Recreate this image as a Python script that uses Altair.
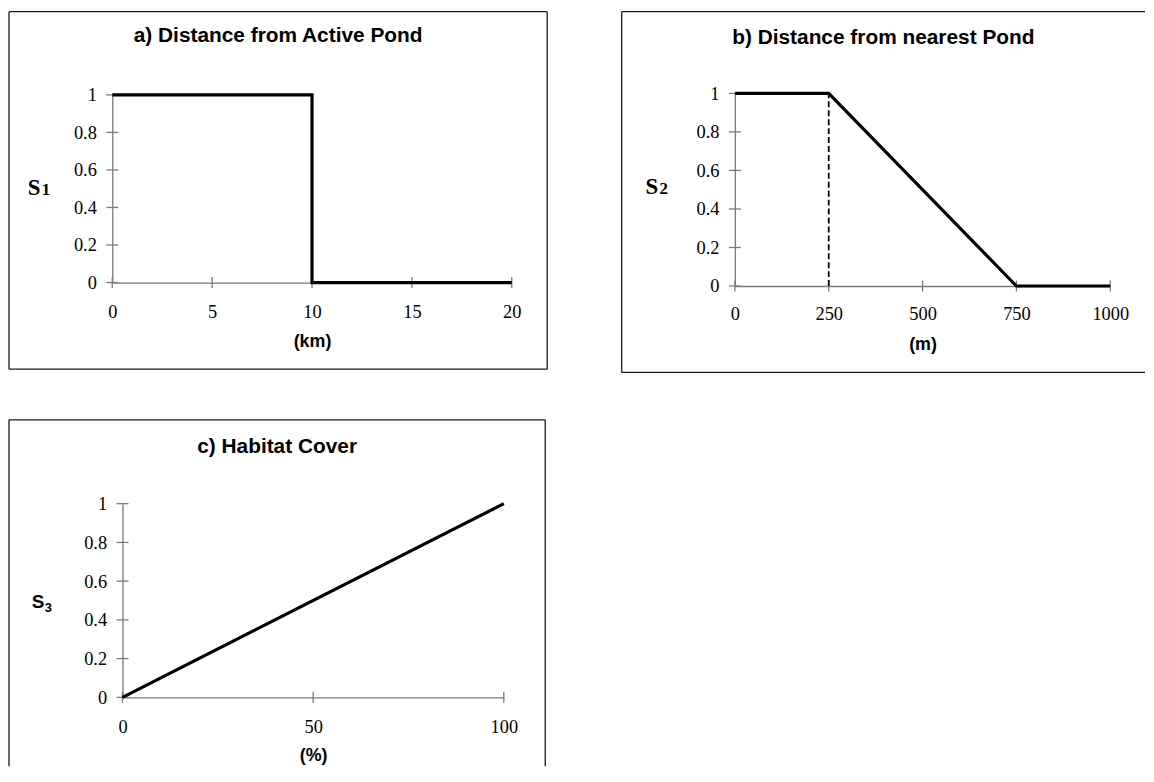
import altair as alt
import pandas as pd

# ---------------- data ----------------
y_ticks = [0, 0.2, 0.4, 0.6, 0.8, 1]

a_x = [0, 10, 10, 20]
a_y = [1, 1, 0, 0]
a_xticks = [0, 5, 10, 15, 20]

b_x = [0, 250, 750, 1000]
b_y = [1, 1, 0, 0]
b_dash_x = [250, 250]
b_dash_y = [0, 1]
b_xticks = [0, 250, 500, 750, 1000]

c_x = [0, 100]
c_y = [0, 1]
c_xticks = [0, 50, 100]

titles = ["a) Distance from Active Pond", "b) Distance from nearest Pond", "c) Habitat Cover"]
x_titles = ["(km)", "(m)", "(%)"]
y_subs = ["1", "2", "3"]

AX = "#7a7a7a"
BORDER = "#1a1a1a"
SERIF = "Liberation Serif"
SANS = "Liberation Sans"
one = pd.DataFrame({"k": [0]})


def border(W, H, sides):
    layers = []
    for s in sides:
        if s == "left":
            enc = dict(x=alt.value(0), y=alt.value(0), y2=alt.value(H))
        elif s == "right":
            enc = dict(x=alt.value(W), y=alt.value(0), y2=alt.value(H))
        elif s == "top":
            enc = dict(y=alt.value(0), x=alt.value(0), x2=alt.value(W))
        else:
            enc = dict(y=alt.value(H), x=alt.value(0), x2=alt.value(W))
        layers.append(alt.Chart(one).mark_rule(color=BORDER, strokeWidth=1.3).encode(**enc))
    return layers


def panel(lx, ly, xticks, xdom, title, xtitle, sub, W, H, xr, yr, title_y,
          lab_pad, xt_y, s_font, s_size, s_x, s_base, sub_size, sub_x, sub_base,
          sides, dash=None):
    xs = alt.Scale(domain=xdom, range=xr, nice=False, zero=False)
    ys = alt.Scale(domain=[0, 1], range=yr, nice=False, zero=False)
    xaxis = alt.Axis(values=xticks, labelExpr="'' + datum.value", grid=False, ticks=False,
                     tickSize=0, domainColor=AX, domainWidth=1.3, labelFont=SERIF,
                     labelFontSize=18.5, labelColor="black", labelPadding=lab_pad,
                     labelBaseline="middle", labelFlush=False, labelOverlap=False,
                     offset=yr[0] - H, title=xtitle, titleFont=SANS, titleFontWeight="bold",
                     titleFontSize=18, titleColor="black", titleY=xt_y, titleBaseline="middle")
    yaxis = alt.Axis(values=y_ticks, labelExpr="'' + datum.value", grid=False, ticks=False,
                     tickSize=0, domainColor=AX, domainWidth=1.3, labelFont=SERIF,
                     labelFontSize=18.5, labelColor="black", labelPadding=16,
                     labelOverlap=False, offset=-xr[0], title=None)
    X = lambda f: alt.X(f, scale=xs, axis=xaxis)
    Y = lambda f: alt.Y(f, scale=ys, axis=yaxis)

    df = pd.DataFrame({"x": lx, "y": ly, "i": list(range(len(lx)))})
    line = alt.Chart(df).mark_line(color="black", strokeWidth=3.2, strokeJoin="miter").encode(
        x=X("x:Q"), y=Y("y:Q"), order="i:Q")

    ytk = alt.Chart(pd.DataFrame({"y": y_ticks})).mark_rule(color=AX, strokeWidth=1.3).encode(
        y=Y("y:Q"), x=alt.value(xr[0] - 6), x2=alt.value(xr[0] + 6))
    xtk = alt.Chart(pd.DataFrame({"x": xticks})).mark_rule(color=AX, strokeWidth=1.3).encode(
        x=X("x:Q"), y=alt.value(yr[0] - 5.5), y2=alt.value(yr[0] + 5.5))

    layers = border(W, H, sides) + [xtk, ytk]
    if dash is not None:
        ddf = pd.DataFrame({"x": dash[0], "y": dash[1]})
        layers.append(alt.Chart(ddf).mark_line(color="black", strokeWidth=1.8,
                                               strokeDash=[6, 3]).encode(x=X("x:Q"), y=Y("y:Q")))
    layers.append(line)

    ttl = alt.Chart(pd.DataFrame({"t": [title]})).mark_text(
        font=SANS, fontWeight="bold", fontSize=21, align="center", baseline="middle",
        color="black").encode(text="t:N", x=alt.value(W / 2), y=alt.value(title_y))
    s_lab = alt.Chart(pd.DataFrame({"t": ["S"]})).mark_text(
        font=s_font, fontWeight="bold", fontSize=s_size, align="left", baseline="alphabetic",
        color="black").encode(text="t:N", x=alt.value(s_x), y=alt.value(s_base))
    sub_lab = alt.Chart(pd.DataFrame({"t": [sub]})).mark_text(
        font=s_font, fontWeight="bold", fontSize=sub_size, align="left", baseline="alphabetic",
        color="black").encode(text="t:N", x=alt.value(sub_x), y=alt.value(sub_base))
    layers += [ttl, s_lab, sub_lab]
    return alt.layer(*layers).properties(width=W, height=H)


pa = panel(a_x, a_y, a_xticks, [0, 20], titles[0], x_titles[0], y_subs[0],
           W=542, H=360, xr=[104, 506.3], yr=[272.8, 83.8], title_y=24.3,
           lab_pad=29.5, xt_y=59.5, s_font=SERIF, s_size=23, s_x=18.8, s_base=184.3,
           sub_size=17, sub_x=33, sub_base=184.3,
           sides=["left", "top", "right", "bottom"])

pb = panel(b_x, b_y, b_xticks, [0, 1000], titles[1], x_titles[1], y_subs[1],
           W=527, H=363.3, xr=[114, 492], yr=[276.3, 82.3], title_y=26.3,
           lab_pad=28, xt_y=58.5, s_font=SERIF, s_size=23, s_x=24, s_base=183.3,
           sub_size=17, sub_x=38, sub_base=183.3,
           sides=["left", "top", "bottom"], dash=(b_dash_x, b_dash_y))

pc = panel(c_x, c_y, c_xticks, [0, 100], titles[2], x_titles[2], y_subs[2],
           W=540, H=349, xr=[114.3, 498.3], yr=[279.5, 84.5], title_y=27.5,
           lab_pad=29, xt_y=59, s_font=SANS, s_size=19, s_x=22.9, s_base=189.8,
           sub_size=13, sub_x=36, sub_base=193.2,
           sides=["left", "top", "right"])

chart = alt.vconcat(alt.hconcat(pa, pb, spacing=73), pc, spacing=46).properties(
    padding=0, background="white").configure_view(strokeWidth=0)

chart.save("out.html", embed_options={"renderer": "svg", "actions": False})
